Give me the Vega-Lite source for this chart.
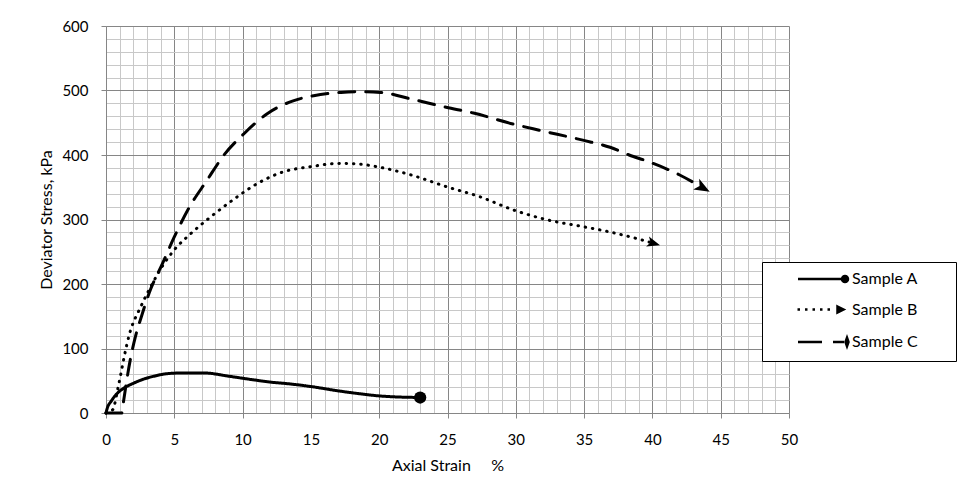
{
  "$schema": "https://vega.github.io/schema/vega-lite/v6.json",
  "width": 683,
  "height": 387,
  "autosize": {"type": "none"},
  "padding": {"left": 106, "top": 26, "right": 174, "bottom": 84},
  "background": "white",
  "config": {"view": {"stroke": null}, "font": "Lato"},
  "data": {
    "values": [
      {"s": "Sample A", "x": 0, "y": 0},
      {"s": "Sample A", "x": 0.1, "y": 8},
      {"s": "Sample A", "x": 0.37, "y": 18},
      {"s": "Sample A", "x": 0.8, "y": 30},
      {"s": "Sample A", "x": 1.34, "y": 39},
      {"s": "Sample A", "x": 2, "y": 46},
      {"s": "Sample A", "x": 2.56, "y": 51},
      {"s": "Sample A", "x": 3.5, "y": 57},
      {"s": "Sample A", "x": 4.5, "y": 61},
      {"s": "Sample A", "x": 5.5, "y": 62},
      {"s": "Sample A", "x": 7.2, "y": 62},
      {"s": "Sample A", "x": 9, "y": 57},
      {"s": "Sample A", "x": 10.6, "y": 52},
      {"s": "Sample A", "x": 12, "y": 48},
      {"s": "Sample A", "x": 13.5, "y": 45},
      {"s": "Sample A", "x": 15, "y": 41},
      {"s": "Sample A", "x": 17.1, "y": 34},
      {"s": "Sample A", "x": 18.5, "y": 30},
      {"s": "Sample A", "x": 20.3, "y": 26},
      {"s": "Sample A", "x": 23, "y": 24},
      {"s": "Sample B", "x": 0, "y": 0},
      {"s": "Sample B", "x": 0.49, "y": 5},
      {"s": "Sample B", "x": 0.85, "y": 36},
      {"s": "Sample B", "x": 1.1, "y": 62},
      {"s": "Sample B", "x": 1.34, "y": 88},
      {"s": "Sample B", "x": 1.7, "y": 121},
      {"s": "Sample B", "x": 2.55, "y": 165},
      {"s": "Sample B", "x": 3.28, "y": 196},
      {"s": "Sample B", "x": 4.14, "y": 228},
      {"s": "Sample B", "x": 5.0, "y": 253},
      {"s": "Sample B", "x": 6.2, "y": 278},
      {"s": "Sample B", "x": 7.66, "y": 304},
      {"s": "Sample B", "x": 9.4, "y": 332},
      {"s": "Sample B", "x": 11.1, "y": 356},
      {"s": "Sample B", "x": 13, "y": 374},
      {"s": "Sample B", "x": 15, "y": 382},
      {"s": "Sample B", "x": 17.1, "y": 387},
      {"s": "Sample B", "x": 18.5, "y": 386},
      {"s": "Sample B", "x": 19.8, "y": 382},
      {"s": "Sample B", "x": 22.5, "y": 368},
      {"s": "Sample B", "x": 24.9, "y": 351},
      {"s": "Sample B", "x": 27.4, "y": 335},
      {"s": "Sample B", "x": 29.8, "y": 315},
      {"s": "Sample B", "x": 32.2, "y": 300},
      {"s": "Sample B", "x": 34.9, "y": 289},
      {"s": "Sample B", "x": 36.6, "y": 282},
      {"s": "Sample B", "x": 39.1, "y": 269},
      {"s": "Sample B", "x": 40.1, "y": 263},
      {"s": "Sample C", "x": 0, "y": 0},
      {"s": "Sample C", "x": 1.15, "y": 0},
      {"s": "Sample C", "x": 1.3, "y": 20},
      {"s": "Sample C", "x": 1.55, "y": 55},
      {"s": "Sample C", "x": 1.8, "y": 85},
      {"s": "Sample C", "x": 2.15, "y": 118},
      {"s": "Sample C", "x": 2.6, "y": 150},
      {"s": "Sample C", "x": 3.16, "y": 186},
      {"s": "Sample C", "x": 4.14, "y": 232},
      {"s": "Sample C", "x": 5.0, "y": 273},
      {"s": "Sample C", "x": 6.1, "y": 319},
      {"s": "Sample C", "x": 7.4, "y": 361},
      {"s": "Sample C", "x": 8.6, "y": 399},
      {"s": "Sample C", "x": 10.1, "y": 433},
      {"s": "Sample C", "x": 11.8, "y": 464},
      {"s": "Sample C", "x": 13.7, "y": 484},
      {"s": "Sample C", "x": 15.2, "y": 492},
      {"s": "Sample C", "x": 17.2, "y": 497},
      {"s": "Sample C", "x": 18.5, "y": 498},
      {"s": "Sample C", "x": 20.1, "y": 497},
      {"s": "Sample C", "x": 22.3, "y": 487},
      {"s": "Sample C", "x": 24.9, "y": 474},
      {"s": "Sample C", "x": 26.9, "y": 465},
      {"s": "Sample C", "x": 29.8, "y": 448},
      {"s": "Sample C", "x": 31.8, "y": 438},
      {"s": "Sample C", "x": 34.9, "y": 423},
      {"s": "Sample C", "x": 36.9, "y": 412},
      {"s": "Sample C", "x": 38.3, "y": 400},
      {"s": "Sample C", "x": 39.8, "y": 389},
      {"s": "Sample C", "x": 42.0, "y": 369},
      {"s": "Sample C", "x": 43.7, "y": 349}
    ]
  },
  "resolve": {"axis": {"x": "independent", "y": "independent"}},
  "layer": [
    {
      "mark": {"type": "line", "color": "black", "strokeWidth": 3, "strokeCap": "round", "interpolate": "monotone"},
      "encoding": {
        "x": {"field": "x", "type": "quantitative", "scale": {"domain": [0, 50], "nice": false, "zero": false},
          "axis": {"orient": "top", "values": [1,2,3,4,6,7,8,9,11,12,13,14,16,17,18,19,21,22,23,24,26,27,28,29,31,32,33,34,36,37,38,39,41,42,43,44,46,47,48,49],
            "grid": true, "gridColor": "#c8c8c8", "gridWidth": 1, "labels": false, "ticks": false, "domain": false, "title": null}},
        "y": {"field": "y", "type": "quantitative", "scale": {"domain": [0, 600], "nice": false, "zero": false},
          "axis": {"orient": "right", "values": [20,40,60,80,120,140,160,180,220,240,260,280,320,340,360,380,420,440,460,480,520,540,560,580],
            "grid": true, "gridColor": "#c8c8c8", "gridWidth": 1, "labels": false, "ticks": false, "domain": false, "title": null}},
        "strokeDash": {"field": "s", "type": "nominal", "scale": {"range": [[1, 0], [0.5, 6.8], [16, 11]]}, "legend": null}
      }
    },
    {
      "transform": [
        {"joinaggregate": [{"op": "max", "field": "x", "as": "xmax"}], "groupby": ["s"]},
        {"filter": "datum.s === 'Sample A' && datum.x === datum.xmax"}
      ],
      "mark": {"type": "point", "shape": "circle", "filled": true, "color": "black", "size": 150, "opacity": 1},
      "encoding": {
        "x": {"field": "x", "type": "quantitative",
          "axis": {"orient": "bottom", "values": [0,5,10,15,20,25,30,35,40,45,50], "grid": true, "gridColor": "#868686", "gridWidth": 1,
            "domainColor": "#868686", "tickColor": "#868686", "tickSize": 5, "labelPadding": 14, "labelFont": "Lato", "labelFontSize": 15, "labelColor": "black",
            "labelFlush": false, "labelOverlap": false,
            "title": "Axial Strain\u00a0\u00a0\u00a0\u00a0\u00a0%", "titleFont": "Lato", "titleFontSize": 16, "titleFontWeight": "normal", "titleColor": "black", "titlePadding": 10}},
        "y": {"field": "y", "type": "quantitative",
          "axis": {"orient": "left", "values": [0,100,200,300,400,500,600], "grid": true, "gridColor": "#868686", "gridWidth": 1,
            "domainColor": "#868686", "tickColor": "#868686", "tickSize": 5, "labelPadding": 13, "labelFont": "Lato", "labelFontSize": 15, "labelColor": "black",
            "labelOverlap": false,
            "title": "Deviator Stress, kPa", "titleFont": "Lato", "titleFontSize": 16, "titleFontWeight": "normal", "titleColor": "black", "titlePadding": 7}}
      }
    },
    {
      "transform": [
        {"joinaggregate": [{"op": "max", "field": "x", "as": "xmax"}], "groupby": ["s"]},
        {"filter": "datum.s === 'Sample B' && datum.x === datum.xmax"}
      ],
      "mark": {"type": "point", "shape": "M1,0L-1,-0.8L-0.5,0L-1,0.8Z", "filled": true, "color": "black", "size": 169, "angle": 16, "opacity": 1},
      "encoding": {
        "x": {"field": "x", "type": "quantitative", "axis": null},
        "y": {"field": "y", "type": "quantitative", "axis": null}
      }
    },
    {
      "transform": [
        {"joinaggregate": [{"op": "max", "field": "x", "as": "xmax"}], "groupby": ["s"]},
        {"filter": "datum.s === 'Sample C' && datum.x === datum.xmax"}
      ],
      "mark": {"type": "point", "shape": "M1,0L-1,-0.8L-0.5,0L-1,0.8Z", "filled": true, "color": "black", "size": 240, "angle": 29, "opacity": 1},
      "encoding": {
        "x": {"field": "x", "type": "quantitative", "axis": null},
        "y": {"field": "y", "type": "quantitative", "axis": null}
      }
    },
    {
      "transform": [
        {"joinaggregate": [{"op": "max", "field": "x", "as": "xmax"}], "groupby": ["s"]},
        {"filter": "datum.x === datum.xmax"}
      ],
      "mark": {"type": "point", "filled": false, "color": "black", "strokeWidth": 2.5, "opacity": 0, "size": 100},
      "encoding": {
        "x": {"field": "x", "type": "quantitative", "axis": null},
        "y": {"field": "y", "type": "quantitative", "axis": null},
        "shape": {"field": "s", "type": "nominal",
          "scale": {"domain": ["Sample A", "Sample B", "Sample C"],
            "range": [
              "M-9.4,0H-0.6M0.6,0A0.6 0.6 0 1 1 -0.6,0A0.6 0.6 0 1 1 0.6,0ZM-0.6,0H0.6M0,-0.6V0.6M-0.4,-0.4L0.4,0.4M-0.4,0.4L0.4,-0.4",
              "M-9.5,0h0.5M-8,0h0.5M-6.5,0h0.5M-5,0h0.5M-3.5,0h0.5M-1.5,-0.6L-0.3,0L-1.5,0.6ZM-1.4,0H-0.5M-1.4,-0.3V0.3",
              "M-9.4,0H-4.6M-2.4,0H-0.2M0.4,-0.85L0.7,0L0.4,0.85L0.1,0ZM0.4,-0.6V0.6"
            ]},
          "legend": {"orient": "none", "legendX": 656, "legendY": 236, "title": null, "padding": 9,
            "strokeColor": "black", "fillColor": "white", "symbolSize": 100, "symbolOffset": 66, "labelOffset": -1,
            "symbolStrokeColor": "black", "symbolStrokeWidth": 2.5, "symbolOpacity": 1,
            "labelFont": "Lato", "labelFontSize": 16, "labelColor": "black", "rowPadding": 14.5,
            "labelExpr": "datum.label + '\u00a0\u00a0\u00a0\u00a0\u00a0\u00a0\u00a0\u200b'"}
        }
      }
    }
  ]
}
